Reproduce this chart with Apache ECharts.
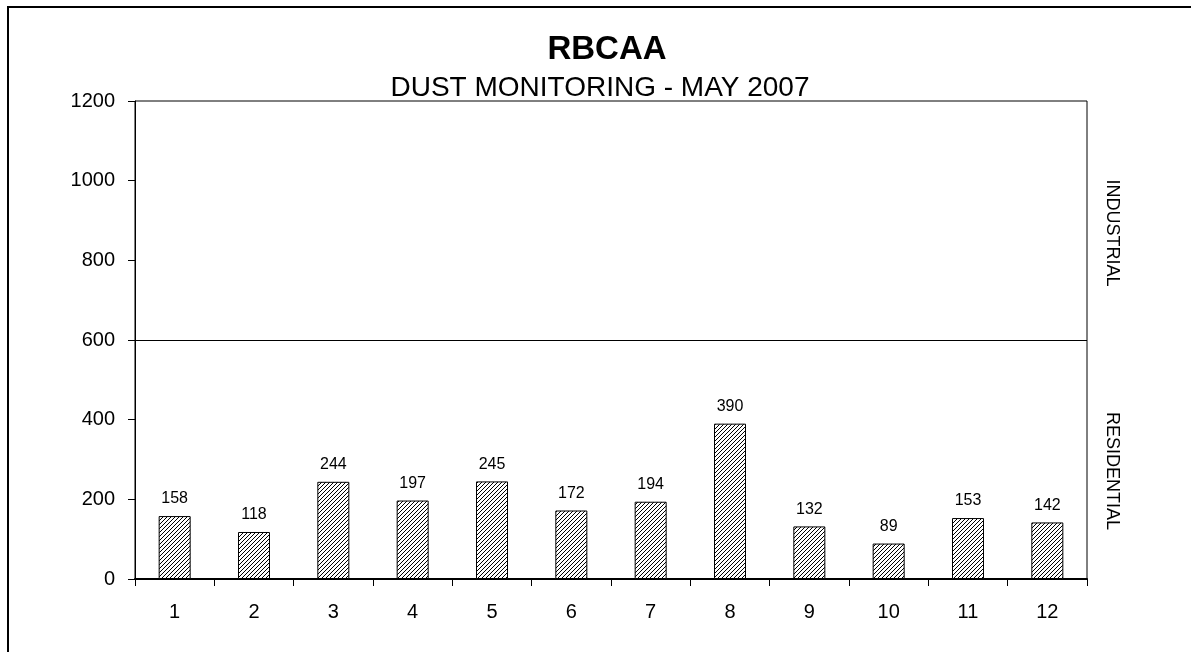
<!DOCTYPE html>
<html>
<head>
<meta charset="utf-8">
<script src="https://cdn.jsdelivr.net/npm/echarts@6/dist/echarts.min.js"></script>
<style>
html,body{margin:0;padding:0;background:#fff;}
#chart{width:1191px;height:652px;}
</style>
</head>
<body>
<div id="chart"></div>
<script>
const categories = ['1','2','3','4','5','6','7','8','9','10','11','12'];
const dustValues = [158,118,244,197,245,172,194,390,132,89,153,142];
const yTicks = { min: 0, max: 1200, interval: 200 };
const thresholdValue = 600;
const titleText = 'RBCAA';
const subtitleText = 'DUST MONITORING - MAY 2007';
const zoneLabels = ['INDUSTRIAL', 'RESIDENTIAL'];

// hatch pattern "/" lines
const pc = document.createElement('canvas');
pc.width = 4; pc.height = 4;
const px = pc.getContext('2d');
px.fillStyle = '#fff';
px.fillRect(0,0,4,4);
px.fillStyle = '#000';
px.fillRect(3,0,1,1);
px.fillRect(2,1,1,1);
px.fillRect(1,2,1,1);
px.fillRect(0,3,1,1);

const FONT = 'Liberation Sans, Arial, sans-serif';
const chart = echarts.init(document.getElementById('chart'), null, {renderer:'canvas'});
chart.setOption({
  animation: false,
  backgroundColor: '#fff',
  title: [
    { text: titleText, left: 607, top: 33, textAlign: 'center', padding: 0,
      textStyle: { fontFamily: FONT, fontSize: 33, fontWeight: 'bold', color: '#000' } },
    { text: subtitleText, left: 600, top: 74, textAlign: 'center', padding: 0,
      textStyle: { fontFamily: FONT, fontSize: 28, fontWeight: 'normal', color: '#000' } }
  ],
  grid: { left: 135, right: 104, top: 101, bottom: 73, show: true, borderColor: '#000', borderWidth: 1, backgroundColor: 'transparent' },
  xAxis: {
    type: 'category', data: categories, boundaryGap: true,
    axisLine: { show: true, lineStyle: { color: '#000', width: 2 } },
    axisTick: { show: true, length: 7, lineStyle: { color: '#000', width: 1 } },
    axisLabel: { color: '#000', fontFamily: FONT, fontSize: 20, margin: 23 },
    splitLine: { show: false }
  },
  yAxis: {
    type: 'value', min: yTicks.min, max: yTicks.max, interval: yTicks.interval,
    axisLine: { show: true, lineStyle: { color: '#000', width: 1 } },
    axisTick: { show: true, length: 7, lineStyle: { color: '#000' } },
    axisLabel: { color: '#000', fontFamily: FONT, fontSize: 20, margin: 20, formatter: function (v) { return String(v); } },
    splitLine: { show: false }
  },
  graphic: [
    { type: 'rect', shape: { x: 8, y: 7, width: 1300, height: 800 }, style: { fill: 'none', stroke: '#000', lineWidth: 2 }, silent: true },
    { type: 'text', x: 1112, y: 233, rotation: -Math.PI/2,
      style: { text: zoneLabels[0], fontFamily: FONT, fontSize: 18, fill: '#000', textAlign: 'center', textVerticalAlign: 'middle' } },
    { type: 'text', x: 1112, y: 471, rotation: -Math.PI/2,
      style: { text: zoneLabels[1], fontFamily: FONT, fontSize: 18, fill: '#000', textAlign: 'center', textVerticalAlign: 'middle' } }
  ],
  series: [{
    type: 'bar',
    data: dustValues,
    barWidth: 32,
    itemStyle: { color: { image: pc, repeat: 'repeat' }, borderColor: '#000', borderWidth: 1 },
    label: { show: true, position: 'top', distance: 9, color: '#000', fontFamily: FONT, fontSize: 16 },
    markLine: {
      silent: true, symbol: 'none', label: { show: false },
      lineStyle: { color: '#000', width: 1, type: 'solid' },
      data: [{ yAxis: thresholdValue }]
    }
  }]
});
</script>
</body>
</html>
